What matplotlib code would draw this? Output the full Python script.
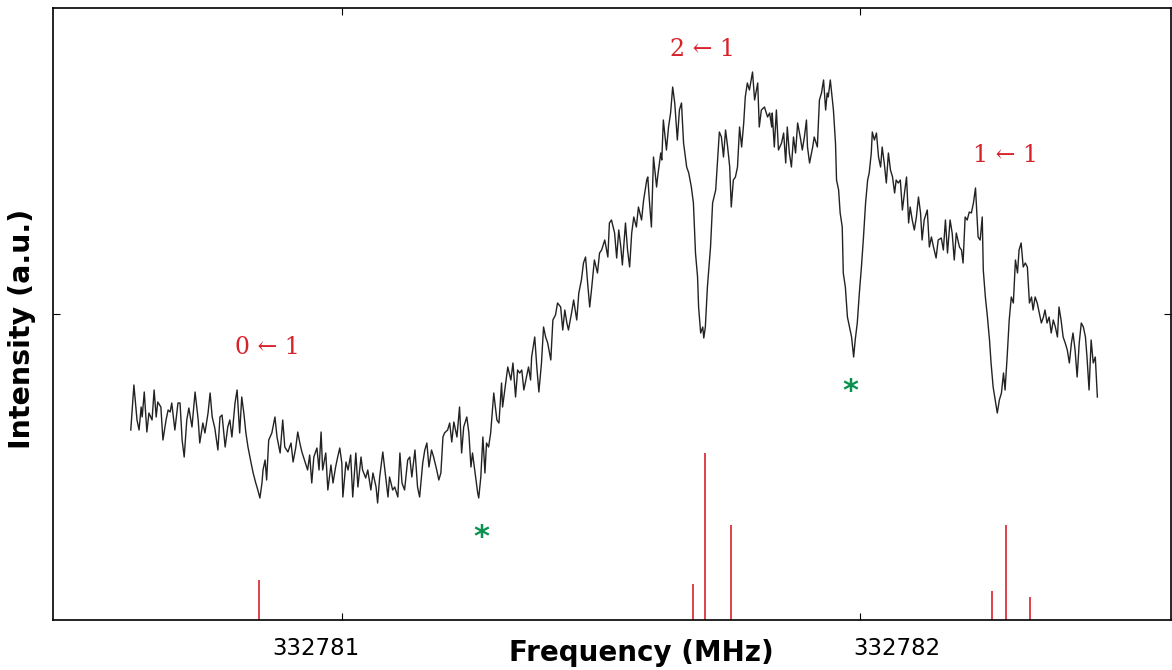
import numpy as np
import matplotlib
matplotlib.use('Agg')
import matplotlib.pyplot as plt
import matplotlib.transforms as mtransforms

# frequencies are given in kHz above 332780 MHz, intensities in a.u.
f0 = 332780.0

seg1_khz = [593, 599, 605, 609, 613, 615, 619, 624, 628, 634, 638, 642, 645, 651, 655, 661, 665, 669, 672, 678,
            684, 688, 692, 696, 701, 705, 711, 717, 723, 726, 732, 736, 742, 746, 750, 755, 761, 765, 769, 775,
            780, 784, 788, 794, 798, 803, 807, 811, 815, 819, 825, 829, 834, 838, 842, 846, 848, 852, 855, 859,
            865, 871, 875, 881, 886]
seg1_int = [190, 235, 200, 190, 213, 203, 228, 188, 207, 200, 230, 203, 218, 213, 180, 200, 210, 208, 217, 190,
            217, 217, 180, 163, 200, 212, 193, 228, 200, 177, 197, 187, 207, 227, 203, 192, 170, 203, 205, 173,
            193, 200, 183, 217, 230, 187, 223, 207, 187, 173, 157, 147, 137, 130, 122, 137, 150, 160, 140, 180,
            187, 203, 183, 167, 200]

seg2_khz = [890, 896, 902, 906, 911, 915, 919, 923, 929, 934, 938, 942, 946, 952, 956, 960, 963, 969, 973, 979,
            983, 988, 992, 996, 1000, 1002, 1008, 1012, 1017, 1021, 1027, 1031, 1037, 1040, 1046, 1050, 1056,
            1060, 1066, 1069, 1073, 1079, 1083, 1089, 1092, 1098, 1102, 1108, 1112, 1116, 1121, 1127, 1131,
            1135, 1141, 1146, 1150, 1156, 1160, 1164, 1168, 1173, 1177, 1183, 1187, 1191, 1195]
seg2_int = [173, 168, 177, 158, 172, 188, 177, 168, 158, 150, 165, 137, 163, 172, 150, 188, 150, 167, 130, 155,
            137, 153, 163, 172, 157, 123, 158, 150, 165, 123, 167, 133, 163, 150, 142, 150, 130, 147, 133, 117,
            143, 168, 150, 123, 143, 130, 133, 123, 167, 137, 130, 160, 163, 143, 170, 133, 123, 157, 170, 177,
            153, 170, 163, 150, 140, 147, 183]

seg3_khz = [1198, 1204, 1208, 1212, 1216, 1222, 1227, 1231, 1235, 1241, 1245, 1249, 1252, 1258, 1262, 1264,
            1268, 1272, 1276, 1279, 1283, 1287, 1293, 1299, 1303, 1308, 1310, 1316, 1320, 1326, 1330, 1335,
            1339, 1343, 1347, 1351, 1356, 1360, 1364, 1366, 1372, 1376, 1380, 1385, 1389, 1393, 1397, 1403,
            1407, 1412, 1416, 1422, 1426, 1430, 1434, 1437, 1443, 1447, 1453, 1457, 1462, 1466, 1470, 1474,
            1478, 1482, 1487, 1493, 1497, 1501]
seg3_int = [187, 190, 197, 178, 198, 183, 213, 167, 193, 203, 187, 153, 167, 143, 127, 122, 143, 183, 147, 177,
            173, 187, 227, 200, 197, 237, 213, 237, 253, 240, 257, 223, 250, 247, 250, 230, 243, 253, 240, 263,
            283, 253, 228, 257, 293, 283, 277, 260, 300, 305, 317, 313, 290, 310, 297, 290, 307, 320, 300, 327,
            340, 357, 363, 337, 313, 333, 360, 347, 367, 370]

seg4_khz = [1507, 1513, 1516, 1520, 1526, 1530, 1534, 1538, 1541, 1547, 1551, 1555, 1559, 1563, 1568, 1572,
            1578, 1582, 1588, 1590, 1593, 1597, 1601, 1607, 1609, 1615, 1617, 1620, 1626, 1630, 1634, 1638,
            1642, 1647, 1651, 1655, 1659, 1665, 1669, 1674, 1678, 1682, 1686, 1688, 1692, 1696, 1698, 1701,
            1705, 1711, 1715, 1721, 1725, 1728, 1732, 1736, 1740, 1744, 1748, 1751, 1755, 1759, 1763, 1767,
            1771, 1775, 1778, 1782, 1786, 1792, 1796, 1802, 1805, 1809]
seg4_int = [380, 363, 397, 400, 387, 362, 390, 373, 355, 397, 370, 353, 387, 403, 393, 413, 400, 420, 440, 443,
            420, 393, 463, 433, 443, 467, 460, 500, 470, 493, 507, 533, 517, 480, 510, 517, 477, 453, 447, 433,
            417, 367, 343, 313, 287, 293, 282, 293, 333, 373, 417, 430, 463, 488, 483, 463, 490, 473, 453, 413,
            440, 443, 453, 493, 473, 497, 523, 537, 530, 548, 520, 537, 493, 510]

seg5_khz = [1815, 1821, 1825, 1829, 1830, 1834, 1838, 1842, 1848, 1852, 1856, 1859, 1863, 1867, 1871, 1875,
            1879, 1884, 1888, 1892, 1896, 1898, 1902, 1908, 1911, 1917, 1921, 1925, 1929, 1933, 1936, 1938,
            1942, 1946, 1948, 1952, 1954, 1958, 1961, 1965, 1967, 1971, 1975, 1979, 1983, 1987, 1990, 1994,
            1998, 2002, 2006, 2010, 2014, 2017, 2021, 2023, 2027, 2031, 2035, 2039, 2042, 2046, 2050, 2054,
            2058, 2062, 2066, 2069, 2073, 2077, 2081, 2085, 2089, 2093, 2096, 2100, 2104, 2108, 2112, 2116, 2119]
seg5_int = [513, 503, 507, 493, 507, 473, 510, 470, 477, 487, 457, 493, 467, 453, 483, 467, 497, 483, 470, 483,
            500, 473, 457, 473, 483, 473, 520, 527, 540, 510, 527, 523, 540, 520, 510, 477, 440, 430, 407, 393,
            347, 333, 303, 293, 283, 263, 280, 297, 327, 353, 383, 417, 440, 447, 467, 488, 480, 487, 463, 453,
            473, 457, 437, 467, 450, 443, 427, 440, 437, 440, 410, 427, 443, 397, 413, 400, 390, 403, 423, 407, 380]

seg6_khz = [2123, 2129, 2133, 2137, 2141, 2146, 2150, 2156, 2160, 2164, 2168, 2173, 2177, 2181, 2185, 2191,
            2195, 2198, 2202, 2206, 2210, 2214, 2218, 2222, 2225, 2227, 2231, 2235, 2237, 2241, 2245, 2249,
            2252, 2256, 2260, 2264, 2268, 2272, 2276, 2279, 2283, 2287, 2291, 2295, 2299, 2303, 2306, 2310,
            2314, 2318, 2322, 2326, 2330, 2333, 2337, 2341, 2345, 2349, 2353, 2356, 2360, 2364, 2368, 2372,
            2376, 2380, 2383, 2387, 2391, 2395, 2399, 2403, 2407, 2410, 2414, 2418, 2422, 2426, 2430, 2434,
            2437, 2441, 2445, 2449, 2453, 2457]
seg6_int = [400, 410, 373, 383, 373, 362, 380, 382, 370, 400, 367, 400, 387, 360, 387, 373, 370, 357, 403, 400,
            408, 407, 417, 432, 403, 383, 380, 403, 350, 323, 303, 280, 257, 233, 220, 207, 220, 227, 247, 230,
            263, 300, 323, 317, 360, 347, 370, 377, 353, 357, 353, 317, 323, 310, 323, 317, 307, 297, 303, 310,
            297, 303, 287, 300, 293, 283, 313, 300, 283, 277, 270, 257, 277, 287, 270, 243, 277, 297, 293, 283,
            263, 230, 280, 257, 263, 223]

# predicted hyperfine components (stick spectrum)
stick_khz = [840, 1678, 1701, 1750, 2254, 2281, 2328]
stick_int = [40, 36, 167, 95, 29, 95, 23]

# transition labels
labels = ['0 \u2190 1', '2 \u2190 1', '1 \u2190 1']
label_khz = [857, 1696, 2279]
label_int = [272, 571, 465]

# unassigned lines
star_khz = [1270, 1981]
star_int = [83, 228]

xticks = [332781, 332782]
xtick_labels = ['332781', '332782']
xtick_shift_px = [-26, 36]

spec_khz = np.concatenate([seg1_khz, seg2_khz, seg3_khz, seg4_khz, seg5_khz, seg6_khz])
spec_int = np.concatenate([seg1_int, seg2_int, seg3_int, seg4_int, seg5_int, seg6_int])
freq = f0 + spec_khz / 1000.0

red = '#d8222b'
green = '#0a9150'

fig = plt.figure(figsize=(11.72, 6.70), dpi=100)
ax = fig.add_axes([53 / 1172, 50 / 670, 1118 / 1172, 612 / 670])

ax.plot(freq, spec_int, color='#222222', lw=1.0)
ax.vlines(f0 + np.array(stick_khz) / 1000.0, 0, stick_int, color=red, lw=1.2)

for lab, fk, it in zip(labels, label_khz, label_int):
    ax.text(f0 + fk / 1000.0, it, lab, color=red, ha='center', va='center',
            fontsize=17, family='DejaVu Serif')
for fk, it in zip(star_khz, star_int):
    ax.text(f0 + fk / 1000.0, it, '*', color=green, ha='center', va='center',
            fontsize=22, fontweight='bold')

ax.set_xlim(f0 + 0.443, f0 + 2.599)
ax.set_ylim(0, 612)
ax.set_xticks(xticks)
ax.set_xticklabels(xtick_labels)
ax.set_yticks([306])
ax.set_yticklabels([])
ax.tick_params(direction='in', top=True, right=True, length=5, labelsize=16.5, pad=12)
for lbl, dx in zip(ax.get_xticklabels(), xtick_shift_px):
    lbl.set_transform(lbl.get_transform() + mtransforms.ScaledTranslation(dx / 100, 0, fig.dpi_scale_trans))
for s in ax.spines.values():
    s.set_linewidth(1.2)

ax.set_xlabel('Frequency (MHz)', fontsize=20, fontweight='bold')
ax.xaxis.set_label_coords(0.526, -0.031)
ax.set_ylabel('Intensity (a.u.)', fontsize=20.5, fontweight='bold')
ax.yaxis.set_label_coords(-0.0152, 0.476)

fig.savefig('out.png', dpi=100)
